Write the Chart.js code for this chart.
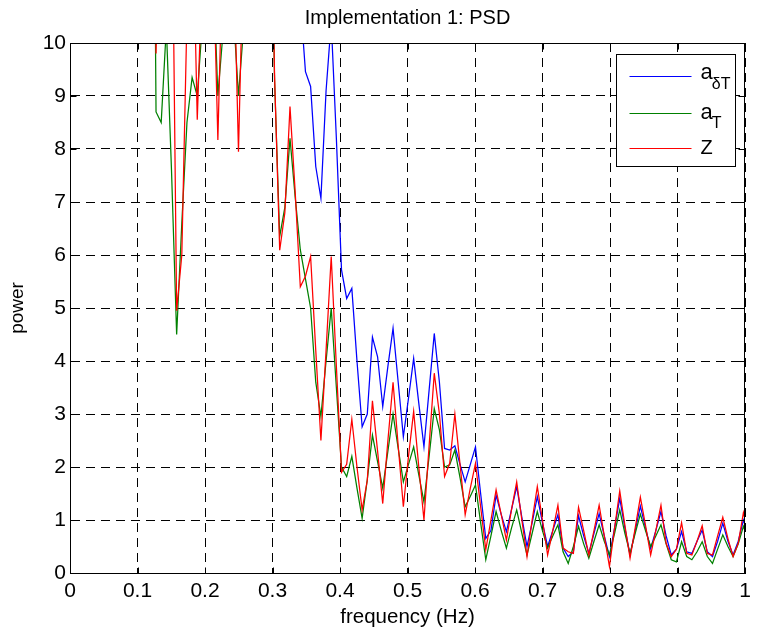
<!DOCTYPE html>
<html>
<head>
<meta charset="utf-8">
<script src="https://cdn.jsdelivr.net/npm/chart.js@4.4.1/dist/chart.umd.min.js"></script>
<style>
  html, body { margin: 0; padding: 0; background: #ffffff; }
  #wrap { width: 767px; height: 633px; }
</style>
</head>
<body>
<div id="wrap"><canvas id="c" width="767" height="633"></canvas></div>
<script>
// ---- data ----
const FREQ_START = 0.00534;   // first frequency bin (Hz)
const FREQ_STEP = 0.007633;   // bin spacing (Hz)

// a_δT (blue)
const psdAdT = [60,58,55,52,50,47,45,42,40,38,36,34,33,31,30,29,28,27,26,25,24,23,22,21,21,20,20,19,19,18,18,17,17,16,16,15,15,14,14,13,13,12.5,12.5,12.2,
  10.8,9.46,9.18,7.67,7.07,9.1,10.4,8.2,5.72,5.18,5.37,4.0,2.76,3.0,4.45,4.08,3.14,3.9,4.62,3.6,2.57,3.3,4.05,3.2,2.38,3.45,4.52,3.6,2.35,2.32,2.4,2.05,1.72,2.05,2.38,1.5,
  0.65,0.8,1.47,1.1,0.78,1.2,1.63,1.05,0.5,0.95,1.44,0.95,0.5,0.8,1.1,0.47,0.31,0.4,1.08,0.7,0.37,0.75,1.12,0.7,0.31,0.85,1.41,0.85,0.34,0.8,1.26,0.85,0.46,0.8,1.16,0.7,
  0.34,0.45,0.78,0.4,0.37,0.6,0.81,0.4,0.31,0.6,0.94,0.6,0.34,0.6,1.0,0.7];

// a_T (green)
const psdAT = [55,52,50,47,44,42,40,37,35,33,31,29,27,25,23,21,
  8.7,8.5,10.3,7.6,4.5,6.6,8.5,9.35,9.0,10.4,13,11.7,9.0,10.2,13,10.6,9.0,10.3,14,16,18,17,15,9.3,
  6.35,6.9,8.2,7.1,6.1,5.55,5.0,3.6,2.95,4.0,5.0,3.5,2.0,1.82,2.2,1.6,1.03,1.76,2.6,2.1,1.6,2.3,3.0,2.35,1.72,2.05,2.38,1.85,1.34,2.2,3.1,2.7,2.0,2.04,2.32,1.8,1.25,1.45,1.66,0.95,
  0.25,0.7,1.16,0.8,0.47,0.85,1.19,0.75,0.34,0.75,1.16,0.8,0.47,0.7,0.91,0.4,0.18,0.5,0.88,0.55,0.28,0.6,0.91,0.6,0.34,0.75,1.19,0.75,0.37,0.75,1.11,0.8,0.5,0.7,0.91,0.55,
  0.25,0.21,0.59,0.31,0.25,0.4,0.59,0.31,0.18,0.45,0.72,0.5,0.31,0.55,0.88,0.6];

// Z (red)
const psdZ = [60,57,54,51,48,45,43,40,38,36,34,32,30,28,26,24,
  9.8,14,18,14,4.95,6.0,10.5,13,8.55,11.5,13,12,8.17,12,14,12,7.95,12,15,17,18,17,15,9.4,
  6.09,6.8,8.8,7.2,5.4,5.6,5.97,4.2,2.5,4.2,5.97,3.9,1.9,2.05,2.9,2.0,1.19,1.75,3.25,2.3,1.31,2.5,3.6,2.4,1.25,2.2,3.05,2.0,1.0,2.4,3.77,3.0,1.82,2.07,3.0,2.05,1.1,1.6,2.07,1.25,
  0.44,1.0,1.57,1.1,0.62,1.2,1.72,1.0,0.31,1.0,1.63,1.0,0.34,0.8,1.28,0.47,0.4,0.37,1.24,0.8,0.34,0.8,1.28,0.7,0.12,0.85,1.55,0.9,0.28,0.85,1.43,0.9,0.34,0.8,1.28,0.56,
  0.31,0.45,0.95,0.37,0.34,0.6,0.89,0.37,0.34,0.7,1.05,0.65,0.31,0.56,1.14,0.72];

const xTicks = [0, 0.1, 0.2, 0.3, 0.4, 0.5, 0.6, 0.7, 0.8, 0.9, 1];
const yTicks = [0, 1, 2, 3, 4, 5, 6, 7, 8, 9, 10];
const xTickLabels = ['0', '0.1', '0.2', '0.3', '0.4', '0.5', '0.6', '0.7', '0.8', '0.9', '1'];
const seriesMain = ['a', 'a', 'Z'];
const seriesSub = ['\u03B4T', 'T', ''];
const seriesColors = ['#0000ff', '#008000', '#ff0000'];

const chartTitle = 'Implementation 1: PSD';
const xTitle = 'frequency (Hz)';
const yTitle = 'power';

// ---- build ----
const freq = psdAdT.map((_, i) => FREQ_START + i * FREQ_STEP);
const toPts = arr => arr.map((v, i) => ({ x: freq[i], y: v }));
const FONT = "'Liberation Sans', Arial, Helvetica, sans-serif";

const framePlugin = {
  id: 'matlabFrame',
  afterDatasetsDraw(chart) {
    const { ctx, chartArea: a, scales } = chart;
    const al = v => Math.round(v) + 0.5;
    ctx.save();
    ctx.setLineDash([]);
    ctx.strokeStyle = '#000';
    ctx.lineWidth = 1;
    const L = al(a.left), R = al(a.right) - 1, T = al(a.top), B = al(a.bottom);
    ctx.strokeRect(L, T, R - L, B - T);
    const tl = 6;
    ctx.beginPath();
    xTicks.forEach(v => {
      const px = al(scales.x.getPixelForValue(v));
      ctx.moveTo(px, B); ctx.lineTo(px, B - tl);
      ctx.moveTo(px, T); ctx.lineTo(px, T + tl);
    });
    yTicks.forEach(v => {
      const py = al(scales.y.getPixelForValue(v));
      ctx.moveTo(L, py); ctx.lineTo(L + tl, py);
      ctx.moveTo(R, py); ctx.lineTo(R - tl, py);
    });
    ctx.stroke();
    ctx.restore();
  }
};

const legendPlugin = {
  id: 'matlabLegend',
  afterDraw(chart) {
    const { ctx, chartArea: a } = chart;
    const bx = Math.round(a.right - 129) + 0.5, by = Math.round(a.top + 11) + 0.5;
    const bw = 119, bh = 112;
    ctx.save();
    ctx.setLineDash([]);
    ctx.fillStyle = '#fff';
    ctx.fillRect(bx, by, bw, bh);
    ctx.strokeStyle = '#000';
    ctx.lineWidth = 1;
    ctx.strokeRect(bx, by, bw, bh);
    const lineY = [21, 58, 93];
    const baseY = [24, 64, 99];
    const subY = [34, 73, 0];
    for (let i = 0; i < 3; i++) {
      const ly = Math.round(by + lineY[i]) + 0.5;
      ctx.strokeStyle = seriesColors[i];
      ctx.lineWidth = 1.2;
      ctx.beginPath();
      ctx.moveTo(bx + 13, ly); ctx.lineTo(bx + 75, ly);
      ctx.stroke();
      ctx.fillStyle = '#000';
      ctx.textBaseline = 'alphabetic';
      ctx.textAlign = 'left';
      const mainSize = seriesSub[i] ? 22 : 20;
      ctx.font = mainSize + 'px ' + FONT;
      ctx.fillText(seriesMain[i], bx + 84, by + baseY[i]);
      if (seriesSub[i]) {
        const w = ctx.measureText(seriesMain[i]).width;
        ctx.font = '16px ' + FONT;
        ctx.fillText(seriesSub[i], bx + 84 + w - 1, by + subY[i]);
      }
    }
    ctx.restore();
  }
};

new Chart(document.getElementById('c'), {
  type: 'line',
  data: {
    datasets: [
      { label: 'a_\u03B4T', data: toPts(psdAdT), borderColor: seriesColors[0], order: 3 },
      { label: 'a_T', data: toPts(psdAT), borderColor: seriesColors[1], order: 2 },
      { label: 'Z', data: toPts(psdZ), borderColor: seriesColors[2], order: 1 }
    ]
  },
  options: {
    responsive: false,
    animation: false,
    devicePixelRatio: 1,
    elements: {
      line: { borderWidth: 1.25, tension: 0, fill: false },
      point: { radius: 0, hoverRadius: 0 }
    },
    layout: { padding: { left: 0, right: 22, top: 0, bottom: 0 } },
    plugins: {
      legend: { display: false },
      tooltip: { enabled: false },
      title: {
        display: true, text: chartTitle, fullSize: false, color: '#000',
        font: { family: FONT, size: 20, weight: 'normal', lineHeight: 1.2 },
        padding: { top: 6, bottom: 13 }
      }
    },
    scales: {
      x: {
        type: 'linear', min: 0, max: 1,
        afterBuildTicks: s => { s.ticks = xTicks.map(v => ({ value: v })); },
        afterFit: s => { s.height = 60; },
        ticks: {
          color: '#000', padding: 6, maxRotation: 0, autoSkip: false,
          font: { family: FONT, size: 21 },
          callback: (v) => xTickLabels[xTicks.findIndex(t => Math.abs(t - v) < 1e-9)] ?? ''
        },
        grid: { color: '#000', lineWidth: 1, drawTicks: false },
        border: { display: true, color: '#000', width: 1, dash: [9, 6] },
        title: {
          display: true, text: xTitle, color: '#000',
          font: { family: FONT, size: 20.5, lineHeight: 1.2 },
          padding: { top: 0, bottom: 3.7 }
        }
      },
      y: {
        min: 0, max: 10,
        afterBuildTicks: s => { s.ticks = yTicks.map(v => ({ value: v })); },
        afterFit: s => { s.width = 70; },
        ticks: {
          color: '#000', padding: 4,
          font: { family: FONT, size: 21 }
        },
        grid: { color: '#000', lineWidth: 1, drawTicks: false },
        border: { display: true, color: '#000', width: 1, dash: [9, 6] },
        title: {
          display: true, text: yTitle, color: '#000',
          font: { family: FONT, size: 19, lineHeight: 1.2 },
          padding: { top: 6.6, bottom: 0 }
        }
      }
    }
  },
  plugins: [framePlugin, legendPlugin]
});
</script>
</body>
</html>
